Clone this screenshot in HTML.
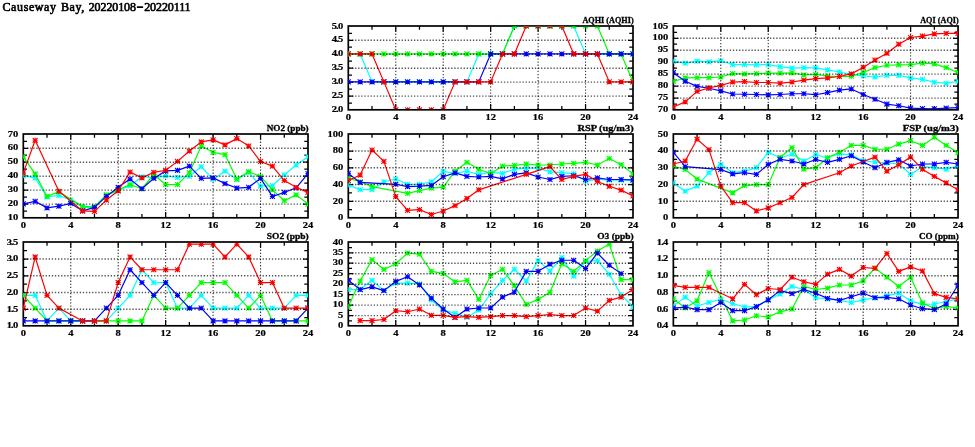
<!DOCTYPE html>
<html lang="en">
<head>
<meta charset="utf-8">
<title>Causeway Bay, 20220108-20220111</title>
<style>
html,body{margin:0;padding:0;background:#fff;}
body{width:975px;height:447px;overflow:hidden;}
svg{display:block;}
text{font-family:"Liberation Serif","DejaVu Serif",serif;font-weight:bold;fill:#000;}
.lb{font-size:9.0px;letter-spacing:0px;stroke:#000;stroke-width:0.2px;}
.ld{letter-spacing:-0.7px;}
.pt{font-size:8.7px;stroke:#000;stroke-width:0.3px;}
.tt{font-size:12.0px;letter-spacing:-0.1px;word-spacing:0.8px;font-weight:normal;stroke:#000;stroke-width:0.62px;}
.tw{letter-spacing:0.6px;}
.hy{font-size:24px;font-weight:normal;letter-spacing:0;stroke:none;}
.ax{fill:none;stroke:#000;stroke-width:1.7;}
.gv{fill:none;stroke:#000;stroke-width:1.1;stroke-dasharray:1.3 1.8;opacity:0.8;}
.gh{fill:none;stroke:#000;stroke-width:1.4;stroke-dasharray:1.3 1.8;opacity:0.68;}
.tk{fill:none;stroke:#000;stroke-width:1.25;}
.ln{fill:none;stroke-width:1.2;stroke-linejoin:round;}
.mk{fill:none;stroke-width:1.1;}
.c{stroke:#00ffff;marker-start:url(#mc);marker-mid:url(#mc);marker-end:url(#mc);}
.g{stroke:#00ff00;marker-start:url(#mg);marker-mid:url(#mg);marker-end:url(#mg);}
.b{stroke:#0000ff;marker-start:url(#mb);marker-mid:url(#mb);marker-end:url(#mb);}
.r{stroke:#ff0000;marker-start:url(#mr);marker-mid:url(#mr);marker-end:url(#mr);}
</style>
</head>
<body>
<svg width="975" height="447" viewBox="0 0 975 447">
<defs>
<marker id="mc" markerUnits="userSpaceOnUse" markerWidth="7" markerHeight="6.9" refX="0" refY="0" viewBox="-3.5 -3.45 7 6.9" overflow="visible"><path class="mk" stroke="#00ffff" d="M-2.5 -2.45L2.5 2.45M-2.5 2.45L2.5 -2.45M-2.5 0H2.5M0 -2.45V2.45"/></marker>
<marker id="mg" markerUnits="userSpaceOnUse" markerWidth="7" markerHeight="6.9" refX="0" refY="0" viewBox="-3.5 -3.45 7 6.9" overflow="visible"><path class="mk" stroke="#00ff00" d="M-2.5 -2.45L2.5 2.45M-2.5 2.45L2.5 -2.45M-2.5 0H2.5M0 -2.45V2.45"/></marker>
<marker id="mb" markerUnits="userSpaceOnUse" markerWidth="7" markerHeight="6.9" refX="0" refY="0" viewBox="-3.5 -3.45 7 6.9" overflow="visible"><path class="mk" stroke="#0000ff" d="M-2.5 -2.45L2.5 2.45M-2.5 2.45L2.5 -2.45M-2.5 0H2.5M0 -2.45V2.45"/></marker>
<marker id="mr" markerUnits="userSpaceOnUse" markerWidth="7" markerHeight="6.9" refX="0" refY="0" viewBox="-3.5 -3.45 7 6.9" overflow="visible"><path class="mk" stroke="#ff0000" d="M-2.5 -2.45L2.5 2.45M-2.5 2.45L2.5 -2.45M-2.5 0H2.5M0 -2.45V2.45"/></marker>
<clipPath id="cp0"><rect x="348.3" y="26.7" width="284.7" height="82.4"/></clipPath>
<clipPath id="cp1"><rect x="673.35" y="26.7" width="284.7" height="82.4"/></clipPath>
<clipPath id="cp2"><rect x="23.3" y="134.7" width="284.7" height="82.4"/></clipPath>
<clipPath id="cp3"><rect x="348.3" y="134.7" width="284.7" height="82.4"/></clipPath>
<clipPath id="cp4"><rect x="673.35" y="134.7" width="284.7" height="82.4"/></clipPath>
<clipPath id="cp5"><rect x="23.3" y="242.7" width="284.7" height="82.4"/></clipPath>
<clipPath id="cp6"><rect x="348.3" y="242.7" width="284.7" height="82.4"/></clipPath>
<clipPath id="cp7"><rect x="673.35" y="242.7" width="284.7" height="82.4"/></clipPath>
</defs>
<rect x="0" y="0" width="975" height="447" fill="#fff"/>
<text class="tt" transform="matrix(1 0 0 1 2.5 10.8)"><tspan class="tw">Causeway Bay,</tspan> 20220108<tspan class="hy" dx="0" dy="2.6">-</tspan><tspan dx="0.3" dy="-2.6">20220111</tspan></text>
<g id="p-AQHI">
<rect class="ax" x="348.3" y="26" width="284.7" height="83.8"/>
<path class="tk" d="M372.03 109.8 v-3.7 M372.03 26 v3.7 M395.75 109.8 v-5.8 M395.75 26 v5.8 M419.48 109.8 v-3.7 M419.48 26 v3.7 M443.2 109.8 v-5.8 M443.2 26 v5.8 M466.93 109.8 v-3.7 M466.93 26 v3.7 M490.65 109.8 v-5.8 M490.65 26 v5.8 M514.38 109.8 v-3.7 M514.38 26 v3.7 M538.1 109.8 v-5.8 M538.1 26 v5.8 M561.83 109.8 v-3.7 M561.83 26 v3.7 M585.55 109.8 v-5.8 M585.55 26 v5.8 M609.27 109.8 v-3.7 M609.27 26 v3.7 M348.3 103.1 h3.7 M633 103.1 h-3.7 M348.3 96.11 h5 M633 96.11 h-5 M348.3 89.13 h3.7 M633 89.13 h-3.7 M348.3 82.15 h5 M633 82.15 h-5 M348.3 75.16 h3.7 M633 75.16 h-3.7 M348.3 68.18 h5 M633 68.18 h-5 M348.3 61.2 h3.7 M633 61.2 h-3.7 M348.3 54.21 h5 M633 54.21 h-5 M348.3 47.23 h3.7 M633 47.23 h-3.7 M348.3 40.25 h5 M633 40.25 h-5 M348.3 33.26 h3.7 M633 33.26 h-3.7"/>
<g clip-path="url(#cp0)">
<polyline class="ln c" points="348.3,53.93 360.16,53.93 372.03,81.87 383.89,81.87 395.75,81.87 407.61,81.87 419.48,81.87 431.34,81.87 443.2,81.87 455.06,81.87 466.93,81.87 478.79,53.93 490.65,53.93 502.51,53.93 514.38,26 526.24,26 538.1,26 549.96,26 561.83,26 573.69,26 585.55,53.93 597.41,53.93 609.27,53.93 621.14,53.93 633,53.93"/>
<polyline class="ln g" points="348.3,53.93 360.16,53.93 372.03,53.93 383.89,53.93 395.75,53.93 407.61,53.93 419.48,53.93 431.34,53.93 443.2,53.93 455.06,53.93 466.93,53.93 478.79,53.93 490.65,53.93 502.51,53.93 514.38,26 526.24,26 538.1,26 549.96,26 561.83,26 573.69,26 585.55,26 597.41,26 609.27,53.93 621.14,53.93 633,81.87"/>
<polyline class="ln b" points="348.3,81.87 360.16,81.87 372.03,81.87 383.89,81.87 395.75,81.87 407.61,81.87 419.48,81.87 431.34,81.87 443.2,81.87 455.06,81.87 466.93,81.87 478.79,81.87 490.65,53.93 502.51,53.93 514.38,53.93 526.24,53.93 538.1,53.93 549.96,53.93 561.83,53.93 573.69,53.93 585.55,53.93 597.41,53.93 609.27,53.93 621.14,53.93 633,53.93"/>
<polyline class="ln r" points="348.3,53.93 360.16,53.93 372.03,53.93 383.89,81.87 395.75,109.8 407.61,109.8 419.48,109.8 431.34,109.8 443.2,109.8 455.06,81.87 466.93,81.87 478.79,81.87 490.65,81.87 502.51,53.93 514.38,53.93 526.24,26 538.1,26 549.96,26 561.83,26 573.69,53.93 585.55,53.93 597.41,53.93 609.27,81.87 621.14,81.87 633,81.87"/>
</g>
<path class="gv" d="M395.75 27.4V109.8M443.2 27.4V109.8M490.65 27.4V109.8M538.1 27.4V109.8M585.55 27.4V109.8"/>
<path class="gh" d="M348.9 96.11H633M348.9 82.15H633M348.9 68.18H633M348.9 54.21H633M348.9 40.25H633"/>
<text class="lb" text-anchor="middle" transform="matrix(1.17 0 0 1 348.3 120.35)">0</text><text class="lb" text-anchor="middle" transform="matrix(1.17 0 0 1 395.75 120.35)">4</text><text class="lb" text-anchor="middle" transform="matrix(1.17 0 0 1 443.2 120.35)">8</text><text class="lb" text-anchor="middle" transform="matrix(1.17 0 0 1 490.65 120.35)">12</text><text class="lb" text-anchor="middle" transform="matrix(1.17 0 0 1 538.1 120.35)">16</text><text class="lb" text-anchor="middle" transform="matrix(1.17 0 0 1 585.55 120.35)">20</text><text class="lb" text-anchor="middle" transform="matrix(1.17 0 0 1 633 120.35)">24</text>
<text class="lb ld" text-anchor="end" transform="matrix(1.17 0 0 1 342.38 112.3)">2.0</text><text class="lb ld" text-anchor="end" transform="matrix(1.17 0 0 1 342.38 98.33)">2.5</text><text class="lb ld" text-anchor="end" transform="matrix(1.17 0 0 1 342.38 84.37)">3.0</text><text class="lb ld" text-anchor="end" transform="matrix(1.17 0 0 1 342.38 70.4)">3.5</text><text class="lb ld" text-anchor="end" transform="matrix(1.17 0 0 1 342.38 56.43)">4.0</text><text class="lb ld" text-anchor="end" transform="matrix(1.17 0 0 1 342.38 42.47)">4.5</text><text class="lb ld" text-anchor="end" transform="matrix(1.17 0 0 1 342.38 28.5)">5.0</text>
<text class="pt" x="582.45" y="23" textLength="51.2" lengthAdjust="spacingAndGlyphs">AQHI (AQHI)</text>
</g>
<g id="p-AQI">
<rect class="ax" x="673.35" y="26" width="284.7" height="83.8"/>
<path class="tk" d="M697.08 109.8 v-3.7 M697.08 26 v3.7 M720.8 109.8 v-5.8 M720.8 26 v5.8 M744.52 109.8 v-3.7 M744.52 26 v3.7 M768.25 109.8 v-5.8 M768.25 26 v5.8 M791.98 109.8 v-3.7 M791.98 26 v3.7 M815.7 109.8 v-5.8 M815.7 26 v5.8 M839.42 109.8 v-3.7 M839.42 26 v3.7 M863.15 109.8 v-5.8 M863.15 26 v5.8 M886.88 109.8 v-3.7 M886.88 26 v3.7 M910.6 109.8 v-5.8 M910.6 26 v5.8 M934.33 109.8 v-3.7 M934.33 26 v3.7 M673.35 104.09 h3.7 M958.05 104.09 h-3.7 M673.35 98.11 h5 M958.05 98.11 h-5 M673.35 92.12 h3.7 M958.05 92.12 h-3.7 M673.35 86.14 h5 M958.05 86.14 h-5 M673.35 80.15 h3.7 M958.05 80.15 h-3.7 M673.35 74.17 h5 M958.05 74.17 h-5 M673.35 68.18 h3.7 M958.05 68.18 h-3.7 M673.35 62.19 h5 M958.05 62.19 h-5 M673.35 56.21 h3.7 M958.05 56.21 h-3.7 M673.35 50.22 h5 M958.05 50.22 h-5 M673.35 44.24 h3.7 M958.05 44.24 h-3.7 M673.35 38.25 h5 M958.05 38.25 h-5 M673.35 32.27 h3.7 M958.05 32.27 h-3.7"/>
<g clip-path="url(#cp1)">
<polyline class="ln c" points="673.35,61.2 685.21,63.11 697.08,61.2 708.94,61.91 720.8,60.72 732.66,64.55 744.52,64.55 756.39,64.79 768.25,64.55 780.11,66.7 791.98,68.14 803.84,67.66 815.7,67.9 827.56,69.82 839.42,71.97 851.29,74.6 863.15,75.8 875.01,77 886.88,75.32 898.74,75.32 910.6,77.96 922.46,79.39 934.33,82.27 946.19,83.22 958.05,81.31"/>
<polyline class="ln g" points="673.35,81.31 685.21,77.96 697.08,77.72 708.94,77.72 720.8,77 732.66,73.65 744.52,73.89 756.39,73.65 768.25,73.17 780.11,73.17 791.98,72.93 803.84,74.84 815.7,74.36 827.56,76.04 839.42,76.52 851.29,76.28 863.15,72.45 875.01,67.66 886.88,65.27 898.74,64.79 910.6,64.55 922.46,63.11 934.33,63.83 946.19,67.66 958.05,72.45"/>
<polyline class="ln b" points="673.35,72.69 685.21,81.31 697.08,86.34 708.94,88.25 720.8,90.89 732.66,94 744.52,94.24 756.39,94.48 768.25,94.96 780.11,94.48 791.98,93.76 803.84,93.76 815.7,94.72 827.56,92.56 839.42,90.17 851.29,88.97 863.15,94.48 875.01,99.27 886.88,104.05 898.74,105.73 910.6,108.12 922.46,108.6 934.33,108.84 946.19,108.12 958.05,107.65"/>
<polyline class="ln r" points="673.35,106.93 685.21,101.9 697.08,91.36 708.94,88.01 720.8,85.38 732.66,82.03 744.52,81.55 756.39,82.51 768.25,82.51 780.11,83.22 791.98,82.03 803.84,80.11 815.7,78.67 827.56,77.96 839.42,76.52 851.29,73.89 863.15,67.42 875.01,60 886.88,53.29 898.74,44.2 910.6,37.49 922.46,36.06 934.33,33.9 946.19,33.42 958.05,33.42"/>
</g>
<path class="gv" d="M720.8 27.4V109.8M768.25 27.4V109.8M815.7 27.4V109.8M863.15 27.4V109.8M910.6 27.4V109.8"/>
<path class="gh" d="M673.95 98.11H958.05M673.95 86.14H958.05M673.95 74.17H958.05M673.95 62.19H958.05M673.95 50.22H958.05M673.95 38.25H958.05"/>
<text class="lb" text-anchor="middle" transform="matrix(1.17 0 0 1 673.35 120.35)">0</text><text class="lb" text-anchor="middle" transform="matrix(1.17 0 0 1 720.8 120.35)">4</text><text class="lb" text-anchor="middle" transform="matrix(1.17 0 0 1 768.25 120.35)">8</text><text class="lb" text-anchor="middle" transform="matrix(1.17 0 0 1 815.7 120.35)">12</text><text class="lb" text-anchor="middle" transform="matrix(1.17 0 0 1 863.15 120.35)">16</text><text class="lb" text-anchor="middle" transform="matrix(1.17 0 0 1 910.6 120.35)">20</text><text class="lb" text-anchor="middle" transform="matrix(1.17 0 0 1 958.05 120.35)">24</text>
<text class="lb" text-anchor="end" transform="matrix(1.17 0 0 1 668.25 112.3)">70</text><text class="lb" text-anchor="end" transform="matrix(1.17 0 0 1 668.25 100.33)">75</text><text class="lb" text-anchor="end" transform="matrix(1.17 0 0 1 668.25 88.36)">80</text><text class="lb" text-anchor="end" transform="matrix(1.17 0 0 1 668.25 76.39)">85</text><text class="lb" text-anchor="end" transform="matrix(1.17 0 0 1 668.25 64.41)">90</text><text class="lb" text-anchor="end" transform="matrix(1.17 0 0 1 668.25 52.44)">95</text><text class="lb" text-anchor="end" transform="matrix(1.17 0 0 1 668.25 40.47)">100</text><text class="lb" text-anchor="end" transform="matrix(1.17 0 0 1 668.25 28.5)">105</text>
<text class="pt" x="920.2" y="23" textLength="38.5" lengthAdjust="spacingAndGlyphs">AQI (AQI)</text>
</g>
<g id="p-NO2">
<rect class="ax" x="23.3" y="134" width="284.7" height="83.8"/>
<path class="tk" d="M47.02 217.8 v-3.7 M47.02 134 v3.7 M70.75 217.8 v-5.8 M70.75 134 v5.8 M94.47 217.8 v-3.7 M94.47 134 v3.7 M118.2 217.8 v-5.8 M118.2 134 v5.8 M141.93 217.8 v-3.7 M141.93 134 v3.7 M165.65 217.8 v-5.8 M165.65 134 v5.8 M189.38 217.8 v-3.7 M189.38 134 v3.7 M213.1 217.8 v-5.8 M213.1 134 v5.8 M236.82 217.8 v-3.7 M236.82 134 v3.7 M260.55 217.8 v-5.8 M260.55 134 v5.8 M284.27 217.8 v-3.7 M284.27 134 v3.7 M23.3 211.1 h3.7 M308 211.1 h-3.7 M23.3 204.11 h5 M308 204.11 h-5 M23.3 197.13 h3.7 M308 197.13 h-3.7 M23.3 190.15 h5 M308 190.15 h-5 M23.3 183.16 h3.7 M308 183.16 h-3.7 M23.3 176.18 h5 M308 176.18 h-5 M23.3 169.2 h3.7 M308 169.2 h-3.7 M23.3 162.21 h5 M308 162.21 h-5 M23.3 155.23 h3.7 M308 155.23 h-3.7 M23.3 148.25 h5 M308 148.25 h-5 M23.3 141.26 h3.7 M308 141.26 h-3.7"/>
<g clip-path="url(#cp2)">
<polyline class="ln c" points="23.3,175.76 35.16,177.86 47.02,196.99 58.89,195.45 70.75,200.06 82.61,207.33 94.47,207.33 106.34,195.45 118.2,190.43 130.06,185.68 141.93,176.74 153.79,177.86 165.65,175.9 177.51,177.44 189.38,176.32 201.24,166.68 213.1,179.53 224.96,171.15 236.82,179.53 248.69,172.41 260.55,186.1 272.41,185.68 284.27,174.92 296.14,165.01 308,156.77"/>
<polyline class="ln g" points="23.3,156.77 35.16,173.94 47.02,196.43 58.89,191.82 82.61,206.63 94.47,206.63 106.34,194.89 118.2,189.87 130.06,184.56 141.93,188.75 153.79,174.5 165.65,184.56 177.51,184.56 189.38,172.69 201.24,146.01 213.1,152.3 224.96,154.67 236.82,179.11 248.69,171.71 260.55,176.32 272.41,189.87 284.27,200.76 296.14,194.89 308,204.11"/>
<polyline class="ln b" points="23.3,203.83 35.16,201.32 47.02,207.88 58.89,206.21 70.75,203.41 82.61,210.82 94.47,207.33 106.34,196.43 118.2,187.35 130.06,179.11 141.93,188.75 153.79,178.41 165.65,170.87 177.51,170.31 189.38,166.12 201.24,178.41 213.1,177.86 224.96,183.58 236.82,188.05 248.69,187.35 260.55,178.41 272.41,196.43 284.27,192.52 296.14,187.77 308,173.67"/>
<polyline class="ln r" points="23.3,172.83 35.16,140.29 58.89,191.26 82.61,210.96 94.47,211.38 106.34,200.06 118.2,190.84 130.06,171.99 141.93,177.86 153.79,172.27 165.65,170.31 177.51,161.37 189.38,151.04 201.24,141.96 213.1,139.87 224.96,144.89 236.82,138.61 248.69,146.01 260.55,161.51 272.41,166.12 284.27,180.51 296.14,187.35 308,192.52"/>
</g>
<path class="gv" d="M70.75 135.4V217.8M118.2 135.4V217.8M165.65 135.4V217.8M213.1 135.4V217.8M260.55 135.4V217.8"/>
<path class="gh" d="M23.9 204.11H308M23.9 190.15H308M23.9 176.18H308M23.9 162.21H308M23.9 148.25H308"/>
<text class="lb" text-anchor="middle" transform="matrix(1.17 0 0 1 23.3 228.35)">0</text><text class="lb" text-anchor="middle" transform="matrix(1.17 0 0 1 70.75 228.35)">4</text><text class="lb" text-anchor="middle" transform="matrix(1.17 0 0 1 118.2 228.35)">8</text><text class="lb" text-anchor="middle" transform="matrix(1.17 0 0 1 165.65 228.35)">12</text><text class="lb" text-anchor="middle" transform="matrix(1.17 0 0 1 213.1 228.35)">16</text><text class="lb" text-anchor="middle" transform="matrix(1.17 0 0 1 260.55 228.35)">20</text><text class="lb" text-anchor="middle" transform="matrix(1.17 0 0 1 308 228.35)">24</text>
<text class="lb" text-anchor="end" transform="matrix(1.17 0 0 1 18.2 220.3)">10</text><text class="lb" text-anchor="end" transform="matrix(1.17 0 0 1 18.2 206.33)">20</text><text class="lb" text-anchor="end" transform="matrix(1.17 0 0 1 18.2 192.37)">30</text><text class="lb" text-anchor="end" transform="matrix(1.17 0 0 1 18.2 178.4)">40</text><text class="lb" text-anchor="end" transform="matrix(1.17 0 0 1 18.2 164.43)">50</text><text class="lb" text-anchor="end" transform="matrix(1.17 0 0 1 18.2 150.47)">60</text><text class="lb" text-anchor="end" transform="matrix(1.17 0 0 1 18.2 136.5)">70</text>
<text class="pt" x="266.65" y="131" textLength="42" lengthAdjust="spacingAndGlyphs">NO2 (ppb)</text>
</g>
<g id="p-RSP">
<rect class="ax" x="348.3" y="134" width="284.7" height="83.8"/>
<path class="tk" d="M372.03 217.8 v-3.7 M372.03 134 v3.7 M395.75 217.8 v-5.8 M395.75 134 v5.8 M419.48 217.8 v-3.7 M419.48 134 v3.7 M443.2 217.8 v-5.8 M443.2 134 v5.8 M466.93 217.8 v-3.7 M466.93 134 v3.7 M490.65 217.8 v-5.8 M490.65 134 v5.8 M514.38 217.8 v-3.7 M514.38 134 v3.7 M538.1 217.8 v-5.8 M538.1 134 v5.8 M561.83 217.8 v-3.7 M561.83 134 v3.7 M585.55 217.8 v-5.8 M585.55 134 v5.8 M609.27 217.8 v-3.7 M609.27 134 v3.7 M348.3 209.7 h3.7 M633 209.7 h-3.7 M348.3 201.32 h5 M633 201.32 h-5 M348.3 192.94 h3.7 M633 192.94 h-3.7 M348.3 184.56 h5 M633 184.56 h-5 M348.3 176.18 h3.7 M633 176.18 h-3.7 M348.3 167.8 h5 M633 167.8 h-5 M348.3 159.42 h3.7 M633 159.42 h-3.7 M348.3 151.04 h5 M633 151.04 h-5 M348.3 142.66 h3.7 M633 142.66 h-3.7"/>
<g clip-path="url(#cp3)">
<polyline class="ln c" points="348.3,185.12 360.16,189.64 372.03,189.64 383.89,181.77 395.75,179 407.61,184.28 419.48,184.28 431.34,181.77 443.2,171.37 455.06,173.3 466.93,171.21 478.79,174.31 490.65,172.3 502.51,173.3 514.38,169.2 526.24,168.11 538.1,168.11 549.96,171.88 561.83,172.63 573.69,173.72 585.55,181.1 597.41,179.25 609.27,180.09 621.14,180.09 633,180.51"/>
<polyline class="ln g" points="348.3,178.16 360.16,181.77 372.03,186.54 407.61,193.33 419.48,190.56 431.34,188.05 443.2,187.13 455.06,171.21 466.93,162.32 478.79,169.2 490.65,173.72 502.51,166.1 514.38,165.43 526.24,164 538.1,165.01 549.96,165.01 561.83,164 573.69,163.41 585.55,162.32 597.41,165.01 609.27,158.47 621.14,164.67 633,173.89"/>
<polyline class="ln b" points="348.3,173.39 360.16,182.44 395.75,184.28 407.61,186.54 419.48,186.21 431.34,185.45 443.2,176.74 455.06,172.88 466.93,176.4 478.79,176.99 490.65,176.4 502.51,178.83 514.38,174.31 526.24,172.88 538.1,176.99 549.96,179.5 561.83,176.4 573.69,175.73 585.55,179.5 597.41,177.83 609.27,179.5 621.14,179.5 633,179.92"/>
<polyline class="ln r" points="348.3,180.43 360.16,175.06 372.03,150.01 383.89,161.32 395.75,196.6 407.61,210.34 419.48,209.59 431.34,214.53 443.2,211.01 455.06,205.65 466.93,198.44 478.79,189.81 526.24,174.31 549.96,166.68 561.83,179.5 573.69,176.4 585.55,174.31 597.41,181.51 609.27,186.29 621.14,190.15 633,196.01"/>
</g>
<path class="gv" d="M395.75 135.4V217.8M443.2 135.4V217.8M490.65 135.4V217.8M538.1 135.4V217.8M585.55 135.4V217.8"/>
<path class="gh" d="M348.9 201.32H633M348.9 184.56H633M348.9 167.8H633M348.9 151.04H633"/>
<text class="lb" text-anchor="middle" transform="matrix(1.17 0 0 1 348.3 228.35)">0</text><text class="lb" text-anchor="middle" transform="matrix(1.17 0 0 1 395.75 228.35)">4</text><text class="lb" text-anchor="middle" transform="matrix(1.17 0 0 1 443.2 228.35)">8</text><text class="lb" text-anchor="middle" transform="matrix(1.17 0 0 1 490.65 228.35)">12</text><text class="lb" text-anchor="middle" transform="matrix(1.17 0 0 1 538.1 228.35)">16</text><text class="lb" text-anchor="middle" transform="matrix(1.17 0 0 1 585.55 228.35)">20</text><text class="lb" text-anchor="middle" transform="matrix(1.17 0 0 1 633 228.35)">24</text>
<text class="lb" text-anchor="end" transform="matrix(1.17 0 0 1 343.2 220.3)">0</text><text class="lb" text-anchor="end" transform="matrix(1.17 0 0 1 343.2 203.54)">20</text><text class="lb" text-anchor="end" transform="matrix(1.17 0 0 1 343.2 186.78)">40</text><text class="lb" text-anchor="end" transform="matrix(1.17 0 0 1 343.2 170.02)">60</text><text class="lb" text-anchor="end" transform="matrix(1.17 0 0 1 343.2 153.26)">80</text><text class="lb" text-anchor="end" transform="matrix(1.17 0 0 1 343.2 136.5)">100</text>
<text class="pt" x="577.45" y="131" textLength="56.2" lengthAdjust="spacingAndGlyphs">RSP (ug/m3)</text>
</g>
<g id="p-FSP">
<rect class="ax" x="673.35" y="134" width="284.7" height="83.8"/>
<path class="tk" d="M697.08 217.8 v-3.7 M697.08 134 v3.7 M720.8 217.8 v-5.8 M720.8 134 v5.8 M744.52 217.8 v-3.7 M744.52 134 v3.7 M768.25 217.8 v-5.8 M768.25 134 v5.8 M791.98 217.8 v-3.7 M791.98 134 v3.7 M815.7 217.8 v-5.8 M815.7 134 v5.8 M839.42 217.8 v-3.7 M839.42 134 v3.7 M863.15 217.8 v-5.8 M863.15 134 v5.8 M886.88 217.8 v-3.7 M886.88 134 v3.7 M910.6 217.8 v-5.8 M910.6 134 v5.8 M934.33 217.8 v-3.7 M934.33 134 v3.7 M673.35 209.7 h3.7 M958.05 209.7 h-3.7 M673.35 201.32 h5 M958.05 201.32 h-5 M673.35 192.94 h3.7 M958.05 192.94 h-3.7 M673.35 184.56 h5 M958.05 184.56 h-5 M673.35 176.18 h3.7 M958.05 176.18 h-3.7 M673.35 167.8 h5 M958.05 167.8 h-5 M673.35 159.42 h3.7 M958.05 159.42 h-3.7 M673.35 151.04 h5 M958.05 151.04 h-5 M673.35 142.66 h3.7 M958.05 142.66 h-3.7"/>
<g clip-path="url(#cp4)">
<polyline class="ln c" points="673.35,182.94 685.21,191.15 697.08,186.12 708.94,172.72 720.8,164.34 732.66,172.72 744.52,171.21 756.39,167.69 768.25,152.27 780.11,157.8 791.98,154.28 803.84,160.98 815.7,154.78 827.56,157.8 839.42,153.78 851.29,154.78 863.15,160.98 875.01,161.99 886.88,162.99 898.74,164 910.6,174.39 922.46,166.68 934.33,167.69 946.19,169.2 958.05,166.01"/>
<polyline class="ln g" points="673.35,166.01 685.21,169.53 697.08,179.08 732.66,192.83 744.52,185.62 756.39,184.62 768.25,184.62 780.11,157.46 791.98,147.58 803.84,169.2 815.7,167.69 827.56,157.8 839.42,152.27 851.29,145.4 863.15,145.4 875.01,149.25 886.88,149.25 898.74,144.06 910.6,140.7 922.46,145.4 934.33,137.18 946.19,145.4 958.05,152.6"/>
<polyline class="ln b" points="673.35,152.27 685.21,166.68 720.8,169.53 732.66,173.89 744.52,172.72 756.39,174.39 768.25,164.34 780.11,159.31 791.98,160.98 803.84,164 815.7,159.48 827.56,162.32 839.42,159.31 851.29,155.79 863.15,161.99 875.01,167.69 886.88,162.32 898.74,159.81 910.6,166.01 922.46,164 934.33,164 946.19,162.32 958.05,164"/>
<polyline class="ln r" points="673.35,164 685.21,160.98 697.08,139.2 708.94,149.59 720.8,186.12 732.66,202.72 744.52,202.72 756.39,210.93 768.25,207.91 780.11,202.72 791.98,197.52 803.84,184.62 839.42,172.72 851.29,166.01 875.01,157.13 886.88,171.21 898.74,164.67 910.6,157.13 922.46,169.2 934.33,176.4 946.19,182.94 958.05,189.81"/>
</g>
<path class="gv" d="M720.8 135.4V217.8M768.25 135.4V217.8M815.7 135.4V217.8M863.15 135.4V217.8M910.6 135.4V217.8"/>
<path class="gh" d="M673.95 201.32H958.05M673.95 184.56H958.05M673.95 167.8H958.05M673.95 151.04H958.05"/>
<text class="lb" text-anchor="middle" transform="matrix(1.17 0 0 1 673.35 228.35)">0</text><text class="lb" text-anchor="middle" transform="matrix(1.17 0 0 1 720.8 228.35)">4</text><text class="lb" text-anchor="middle" transform="matrix(1.17 0 0 1 768.25 228.35)">8</text><text class="lb" text-anchor="middle" transform="matrix(1.17 0 0 1 815.7 228.35)">12</text><text class="lb" text-anchor="middle" transform="matrix(1.17 0 0 1 863.15 228.35)">16</text><text class="lb" text-anchor="middle" transform="matrix(1.17 0 0 1 910.6 228.35)">20</text><text class="lb" text-anchor="middle" transform="matrix(1.17 0 0 1 958.05 228.35)">24</text>
<text class="lb" text-anchor="end" transform="matrix(1.17 0 0 1 668.25 220.3)">0</text><text class="lb" text-anchor="end" transform="matrix(1.17 0 0 1 668.25 203.54)">10</text><text class="lb" text-anchor="end" transform="matrix(1.17 0 0 1 668.25 186.78)">20</text><text class="lb" text-anchor="end" transform="matrix(1.17 0 0 1 668.25 170.02)">30</text><text class="lb" text-anchor="end" transform="matrix(1.17 0 0 1 668.25 153.26)">40</text><text class="lb" text-anchor="end" transform="matrix(1.17 0 0 1 668.25 136.5)">50</text>
<text class="pt" x="902.7" y="131" textLength="56" lengthAdjust="spacingAndGlyphs">FSP (ug/m3)</text>
</g>
<g id="p-SO2">
<rect class="ax" x="23.3" y="242" width="284.7" height="83.8"/>
<path class="tk" d="M47.02 325.8 v-3.7 M47.02 242 v3.7 M70.75 325.8 v-5.8 M70.75 242 v5.8 M94.47 325.8 v-3.7 M94.47 242 v3.7 M118.2 325.8 v-5.8 M118.2 242 v5.8 M141.93 325.8 v-3.7 M141.93 242 v3.7 M165.65 325.8 v-5.8 M165.65 242 v5.8 M189.38 325.8 v-3.7 M189.38 242 v3.7 M213.1 325.8 v-5.8 M213.1 242 v5.8 M236.82 325.8 v-3.7 M236.82 242 v3.7 M260.55 325.8 v-5.8 M260.55 242 v5.8 M284.27 325.8 v-3.7 M284.27 242 v3.7 M23.3 317.7 h3.7 M308 317.7 h-3.7 M23.3 309.32 h5 M308 309.32 h-5 M23.3 300.94 h3.7 M308 300.94 h-3.7 M23.3 292.56 h5 M308 292.56 h-5 M23.3 284.18 h3.7 M308 284.18 h-3.7 M23.3 275.8 h5 M308 275.8 h-5 M23.3 267.42 h3.7 M308 267.42 h-3.7 M23.3 259.04 h5 M308 259.04 h-5 M23.3 250.66 h3.7 M308 250.66 h-3.7"/>
<g clip-path="url(#cp5)">
<polyline class="ln c" points="23.3,295.36 35.16,295.36 47.02,320.94 58.89,308.13 70.75,320.94 82.61,320.94 94.47,320.94 106.34,320.94 118.2,308.13 130.06,295.36 141.93,269.75 153.79,282.56 165.65,282.56 177.51,308.13 189.38,308.13 201.24,295.36 213.1,308.13 224.96,308.13 236.82,308.13 248.69,295.36 260.55,308.13 272.41,308.13 284.27,308.13 296.14,295.36 308,295.36"/>
<polyline class="ln g" points="23.3,295.36 35.16,308.13 47.02,320.94 58.89,320.94 70.75,320.94 82.61,320.94 94.47,320.94 106.34,320.94 118.2,320.94 130.06,320.94 141.93,320.94 153.79,295.36 165.65,308.13 177.51,308.13 189.38,295.36 201.24,282.56 213.1,282.56 224.96,282.56 236.82,295.36 248.69,308.13 260.55,295.36 272.41,320.94 284.27,320.94 296.14,320.94 308,320.94"/>
<polyline class="ln b" points="23.3,320.94 35.16,320.94 47.02,320.94 58.89,320.94 70.75,320.94 82.61,320.94 94.47,320.94 106.34,308.13 118.2,295.36 130.06,269.75 141.93,282.56 153.79,295.36 165.65,282.56 177.51,295.36 189.38,308.13 201.24,308.13 213.1,320.94 224.96,320.94 236.82,320.94 248.69,320.94 260.55,320.94 272.41,320.94 284.27,320.94 296.14,320.94 308,308.13"/>
<polyline class="ln r" points="23.3,308.13 35.16,256.95 47.02,295.36 58.89,308.13 82.61,320.94 94.47,320.94 106.34,320.94 118.2,282.56 130.06,256.95 141.93,269.75 153.79,269.75 165.65,269.75 177.51,269.75 189.38,244.18 201.24,244.18 213.1,244.18 224.96,256.95 236.82,244.18 248.69,256.95 260.55,282.56 272.41,282.56 284.27,308.13 296.14,308.13 308,308.13"/>
</g>
<path class="gv" d="M70.75 243.4V325.8M118.2 243.4V325.8M165.65 243.4V325.8M213.1 243.4V325.8M260.55 243.4V325.8"/>
<path class="gh" d="M23.9 309.32H308M23.9 292.56H308M23.9 275.8H308M23.9 259.04H308"/>
<text class="lb" text-anchor="middle" transform="matrix(1.17 0 0 1 23.3 336.35)">0</text><text class="lb" text-anchor="middle" transform="matrix(1.17 0 0 1 70.75 336.35)">4</text><text class="lb" text-anchor="middle" transform="matrix(1.17 0 0 1 118.2 336.35)">8</text><text class="lb" text-anchor="middle" transform="matrix(1.17 0 0 1 165.65 336.35)">12</text><text class="lb" text-anchor="middle" transform="matrix(1.17 0 0 1 213.1 336.35)">16</text><text class="lb" text-anchor="middle" transform="matrix(1.17 0 0 1 260.55 336.35)">20</text><text class="lb" text-anchor="middle" transform="matrix(1.17 0 0 1 308 336.35)">24</text>
<text class="lb ld" text-anchor="end" transform="matrix(1.17 0 0 1 17.38 328.3)">1.0</text><text class="lb ld" text-anchor="end" transform="matrix(1.17 0 0 1 17.38 311.54)">1.5</text><text class="lb ld" text-anchor="end" transform="matrix(1.17 0 0 1 17.38 294.78)">2.0</text><text class="lb ld" text-anchor="end" transform="matrix(1.17 0 0 1 17.38 278.02)">2.5</text><text class="lb ld" text-anchor="end" transform="matrix(1.17 0 0 1 17.38 261.26)">3.0</text><text class="lb ld" text-anchor="end" transform="matrix(1.17 0 0 1 17.38 244.5)">3.5</text>
<text class="pt" x="266.85" y="239" textLength="41.8" lengthAdjust="spacingAndGlyphs">SO2 (ppb)</text>
</g>
<g id="p-O3">
<rect class="ax" x="348.3" y="242" width="284.7" height="83.8"/>
<path class="tk" d="M372.03 325.8 v-3.7 M372.03 242 v3.7 M395.75 325.8 v-5.8 M395.75 242 v5.8 M419.48 325.8 v-3.7 M419.48 242 v3.7 M443.2 325.8 v-5.8 M443.2 242 v5.8 M466.93 325.8 v-3.7 M466.93 242 v3.7 M490.65 325.8 v-5.8 M490.65 242 v5.8 M514.38 325.8 v-3.7 M514.38 242 v3.7 M538.1 325.8 v-5.8 M538.1 242 v5.8 M561.83 325.8 v-3.7 M561.83 242 v3.7 M585.55 325.8 v-5.8 M585.55 242 v5.8 M609.27 325.8 v-3.7 M609.27 242 v3.7 M348.3 320.84 h3.7 M633 320.84 h-3.7 M348.3 315.6 h5 M633 315.6 h-5 M348.3 310.37 h3.7 M633 310.37 h-3.7 M348.3 305.13 h5 M633 305.13 h-5 M348.3 299.89 h3.7 M633 299.89 h-3.7 M348.3 294.65 h5 M633 294.65 h-5 M348.3 289.42 h3.7 M633 289.42 h-3.7 M348.3 284.18 h5 M633 284.18 h-5 M348.3 278.94 h3.7 M633 278.94 h-3.7 M348.3 273.7 h5 M633 273.7 h-5 M348.3 268.47 h3.7 M633 268.47 h-3.7 M348.3 263.23 h5 M633 263.23 h-5 M348.3 257.99 h3.7 M633 257.99 h-3.7 M348.3 252.76 h5 M633 252.76 h-5 M348.3 247.52 h3.7 M633 247.52 h-3.7"/>
<g clip-path="url(#cp6)">
<polyline class="ln c" points="348.3,289.56 360.16,289.56 372.03,280.34 383.89,290.6 395.75,283.06 407.61,283.06 419.48,283.9 431.34,299.82 443.2,310.09 455.06,313.23 466.93,317.42 478.79,310.09 490.65,293.75 502.51,280.34 514.38,269.24 526.24,280.97 538.1,260.65 549.96,270.91 561.83,257.5 573.69,276.15 585.55,261.48 597.41,260.65 609.27,274.26 621.14,294.79 633,306.94"/>
<polyline class="ln g" points="348.3,306.53 360.16,280.97 372.03,259.6 383.89,269.44 395.75,263.79 407.61,253.1 419.48,254.15 431.34,271.33 443.2,273.43 455.06,281.81 466.93,280.34 478.79,299.4 490.65,275.52 502.51,269.24 514.38,285.79 526.24,304.43 538.1,299.4 549.96,292.28 561.83,263.79 573.69,271.33 585.55,260.65 597.41,251.01 609.27,244.1 621.14,279.71 633,279.71"/>
<polyline class="ln b" points="348.3,280.34 360.16,289.56 372.03,286.83 383.89,290.6 395.75,281.39 407.61,276.78 419.48,284.95 431.34,298.15 443.2,309.04 455.06,317.42 466.93,309.04 478.79,307.99 490.65,307.99 502.51,297.1 514.38,292.07 526.24,271.33 538.1,271.33 549.96,264.21 561.83,260.23 573.69,260.23 585.55,268.61 597.41,253.1 609.27,265.25 621.14,273.63"/>
<polyline class="ln r" points="360.16,320.56 372.03,320.56 383.89,319.51 395.75,310.72 407.61,311.76 419.48,309.04 431.34,315.32 443.2,315.32 455.06,317.42 466.93,316.58 478.79,317.42 490.65,316.58 502.51,315.53 514.38,315.53 526.24,316.58 538.1,315.53 549.96,314.49 561.83,315.53 573.69,315.53 585.55,307.99 597.41,311.13 609.27,300.45 621.14,297.1 633,289.56"/>
</g>
<path class="gv" d="M395.75 243.4V325.8M443.2 243.4V325.8M490.65 243.4V325.8M538.1 243.4V325.8M585.55 243.4V325.8"/>
<path class="gh" d="M348.9 315.6H633M348.9 305.13H633M348.9 294.65H633M348.9 284.18H633M348.9 273.7H633M348.9 263.23H633M348.9 252.76H633"/>
<text class="lb" text-anchor="middle" transform="matrix(1.17 0 0 1 348.3 336.35)">0</text><text class="lb" text-anchor="middle" transform="matrix(1.17 0 0 1 395.75 336.35)">4</text><text class="lb" text-anchor="middle" transform="matrix(1.17 0 0 1 443.2 336.35)">8</text><text class="lb" text-anchor="middle" transform="matrix(1.17 0 0 1 490.65 336.35)">12</text><text class="lb" text-anchor="middle" transform="matrix(1.17 0 0 1 538.1 336.35)">16</text><text class="lb" text-anchor="middle" transform="matrix(1.17 0 0 1 585.55 336.35)">20</text><text class="lb" text-anchor="middle" transform="matrix(1.17 0 0 1 633 336.35)">24</text>
<text class="lb" text-anchor="end" transform="matrix(1.17 0 0 1 343.2 328.3)">0</text><text class="lb" text-anchor="end" transform="matrix(1.17 0 0 1 343.2 317.82)">5</text><text class="lb" text-anchor="end" transform="matrix(1.17 0 0 1 343.2 307.35)">10</text><text class="lb" text-anchor="end" transform="matrix(1.17 0 0 1 343.2 296.88)">15</text><text class="lb" text-anchor="end" transform="matrix(1.17 0 0 1 343.2 286.4)">20</text><text class="lb" text-anchor="end" transform="matrix(1.17 0 0 1 343.2 275.93)">25</text><text class="lb" text-anchor="end" transform="matrix(1.17 0 0 1 343.2 265.45)">30</text><text class="lb" text-anchor="end" transform="matrix(1.17 0 0 1 343.2 254.98)">35</text><text class="lb" text-anchor="end" transform="matrix(1.17 0 0 1 343.2 244.5)">40</text>
<text class="pt" x="597.25" y="239" textLength="36.4" lengthAdjust="spacingAndGlyphs">O3 (ppb)</text>
</g>
<g id="p-CO">
<rect class="ax" x="673.35" y="242" width="284.7" height="83.8"/>
<path class="tk" d="M697.08 325.8 v-3.7 M697.08 242 v3.7 M720.8 325.8 v-5.8 M720.8 242 v5.8 M744.52 325.8 v-3.7 M744.52 242 v3.7 M768.25 325.8 v-5.8 M768.25 242 v5.8 M791.98 325.8 v-3.7 M791.98 242 v3.7 M815.7 325.8 v-5.8 M815.7 242 v5.8 M839.42 325.8 v-3.7 M839.42 242 v3.7 M863.15 325.8 v-5.8 M863.15 242 v5.8 M886.88 325.8 v-3.7 M886.88 242 v3.7 M910.6 325.8 v-5.8 M910.6 242 v5.8 M934.33 325.8 v-3.7 M934.33 242 v3.7 M673.35 317.7 h3.7 M958.05 317.7 h-3.7 M673.35 309.32 h5 M958.05 309.32 h-5 M673.35 300.94 h3.7 M958.05 300.94 h-3.7 M673.35 292.56 h5 M958.05 292.56 h-5 M673.35 284.18 h3.7 M958.05 284.18 h-3.7 M673.35 275.8 h5 M958.05 275.8 h-5 M673.35 267.42 h3.7 M958.05 267.42 h-3.7 M673.35 259.04 h5 M958.05 259.04 h-5 M673.35 250.66 h3.7 M958.05 250.66 h-3.7"/>
<g clip-path="url(#cp7)">
<polyline class="ln c" points="673.35,306.02 685.21,297.14 697.08,306.02 708.94,302.5 720.8,299.24 732.66,303.51 744.52,307.03 756.39,306.44 768.25,299.82 780.11,294.04 791.98,286.41 803.84,289.51 815.7,297.73 827.56,298.82 839.42,300.41 851.29,302.5 863.15,299.82 875.01,297.73 886.88,295.63 898.74,293.2 910.6,300.83 922.46,304.35 934.33,304.01 946.19,301.5 958.05,298.82"/>
<polyline class="ln g" points="673.35,298.82 685.21,308.03 697.08,300.83 708.94,272.59 732.66,320.86 744.52,320.02 756.39,315.74 768.25,316.92 780.11,311.81 791.98,309.04 803.84,286.41 815.7,289.51 827.56,288.09 839.42,284.99 851.29,284.99 863.15,280.88 875.01,267.98 886.88,277.2 898.74,286.41 910.6,277.2 922.46,302.92 934.33,308.45 946.19,306.44 958.05,308.03"/>
<polyline class="ln b" points="673.35,308.03 685.21,307.03 697.08,309.71 708.94,309.71 720.8,302.5 732.66,310.72 744.52,310.72 756.39,306.61 768.25,299.82 780.11,290.6 791.98,293.62 803.84,289.51 815.7,293.2 827.56,298.4 839.42,300.41 851.29,296.72 863.15,293.2 875.01,297.73 886.88,297.31 898.74,298.82 910.6,305.02 922.46,308.7 934.33,309.54 946.19,304.01 958.05,284.99"/>
<polyline class="ln r" points="673.35,285.41 685.21,287.42 697.08,287.42 708.94,287.42 732.66,298.82 744.52,284.4 756.39,294.71 768.25,288.51 780.11,289.51 791.98,277.2 803.84,281.72 815.7,284.4 827.56,274.1 839.42,269.32 851.29,276.11 863.15,267.48 875.01,268.31 886.88,253.48 898.74,271.41 910.6,266.89 922.46,270.99 934.33,293.62 946.19,297.31 958.05,298.82"/>
</g>
<path class="gv" d="M720.8 243.4V325.8M768.25 243.4V325.8M815.7 243.4V325.8M863.15 243.4V325.8M910.6 243.4V325.8"/>
<path class="gh" d="M673.95 309.32H958.05M673.95 292.56H958.05M673.95 275.8H958.05M673.95 259.04H958.05"/>
<text class="lb" text-anchor="middle" transform="matrix(1.17 0 0 1 673.35 336.35)">0</text><text class="lb" text-anchor="middle" transform="matrix(1.17 0 0 1 720.8 336.35)">4</text><text class="lb" text-anchor="middle" transform="matrix(1.17 0 0 1 768.25 336.35)">8</text><text class="lb" text-anchor="middle" transform="matrix(1.17 0 0 1 815.7 336.35)">12</text><text class="lb" text-anchor="middle" transform="matrix(1.17 0 0 1 863.15 336.35)">16</text><text class="lb" text-anchor="middle" transform="matrix(1.17 0 0 1 910.6 336.35)">20</text><text class="lb" text-anchor="middle" transform="matrix(1.17 0 0 1 958.05 336.35)">24</text>
<text class="lb ld" text-anchor="end" transform="matrix(1.17 0 0 1 667.43 328.3)">0.4</text><text class="lb ld" text-anchor="end" transform="matrix(1.17 0 0 1 667.43 311.54)">0.6</text><text class="lb ld" text-anchor="end" transform="matrix(1.17 0 0 1 667.43 294.78)">0.8</text><text class="lb ld" text-anchor="end" transform="matrix(1.17 0 0 1 667.43 278.02)">1.0</text><text class="lb ld" text-anchor="end" transform="matrix(1.17 0 0 1 667.43 261.26)">1.2</text><text class="lb ld" text-anchor="end" transform="matrix(1.17 0 0 1 667.43 244.5)">1.4</text>
<text class="pt" x="918.9" y="239" textLength="39.8" lengthAdjust="spacingAndGlyphs">CO (ppm)</text>
</g>
</svg>
</body>
</html>
